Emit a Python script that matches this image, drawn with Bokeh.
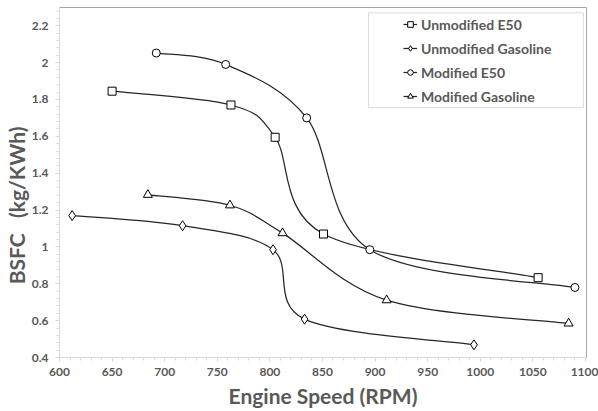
from bokeh.plotting import figure
from bokeh.models import (ColumnDataSource, Range1d, FixedTicker, CustomJSTickFormatter,
                          Legend, LegendItem, BoxAnnotation)
from bokeh.embed import file_html
from bokeh.resources import INLINE

# ---- data ----
x_ticks = [600, 650, 700, 750, 800, 850, 900, 950, 1000, 1050, 1100]
y_ticks = [0.4, 0.6, 0.8, 1.0, 1.2, 1.4, 1.6, 1.8, 2.0, 2.2]

unmod_e50_x = [650, 763, 805, 851, 1055]
unmod_e50_y = [1.845, 1.77, 1.595, 1.07, 0.833]

unmod_gas_x = [612, 717, 803, 833, 994]
unmod_gas_y = [1.17, 1.115, 0.985, 0.608, 0.469]

mod_e50_x = [692, 758, 835, 895, 1090]
mod_e50_y = [2.052, 1.99, 1.70, 0.985, 0.78]

mod_gas_x = [684, 762, 812, 911, 1084]
mod_gas_y = [1.283, 1.226, 1.075, 0.711, 0.585]

series = [
    ("Unmodified E50", unmod_e50_x, unmod_e50_y, "square", 8),
    ("Unmodified Gasoline", unmod_gas_x, unmod_gas_y, "diamond", 10),
    ("Modified E50", mod_e50_x, mod_e50_y, "circle", 8),
    ("Modified Gasoline", mod_gas_x, mod_gas_y, "triangle", 9),
]

FONT = "Lato"
GREY = "#595959"
LINE = "#262626"

p = figure(width=598, height=411, output_backend="svg", toolbar_location=None,
           x_range=Range1d(600, 1101), y_range=Range1d(0.4, 2.299),
           min_border_left=59, min_border_right=12, min_border_top=7, min_border_bottom=54)

p.background_fill_color = "white"
p.border_fill_color = "white"
p.outline_line_color = "#a6a6a6"
p.outline_line_width = 1
p.xgrid.visible = False
p.ygrid.visible = False


def smooth_segments(xs, ys):
    """Catmull-Rom style smoothing rendered with Bokeh's bezier glyph."""
    n = len(xs)
    d = dict(x0=[], y0=[], x1=[], y1=[], cx0=[], cy0=[], cx1=[], cy1=[])
    for i in range(n - 1):
        xm, ym = (xs[i - 1], ys[i - 1]) if i > 0 else (xs[i], ys[i])
        xp, yp = (xs[i + 2], ys[i + 2]) if i + 2 < n else (xs[i + 1], ys[i + 1])
        d["x0"].append(xs[i]); d["y0"].append(ys[i])
        d["x1"].append(xs[i + 1]); d["y1"].append(ys[i + 1])
        d["cx0"].append(xs[i] + (xs[i + 1] - xm) / 6.0)
        d["cy0"].append(ys[i] + (ys[i + 1] - ym) / 6.0)
        d["cx1"].append(xs[i + 1] - (xp - xs[i]) / 6.0)
        d["cy1"].append(ys[i + 1] - (yp - ys[i]) / 6.0)
    return ColumnDataSource(d)


items = []
for name, xs, ys, marker, size in series:
    src = smooth_segments(xs, ys)
    r_line = p.bezier(x0="x0", y0="y0", x1="x1", y1="y1", cx0="cx0", cy0="cy0",
                      cx1="cx1", cy1="cy1", source=src, line_color=LINE, line_width=1.25)
    r_pts = p.scatter(x=xs, y=ys, marker=marker, size=size, fill_color="white",
                      line_color="black", line_width=1)
    items.append(LegendItem(label=name, renderers=[r_line, r_pts]))

legend = Legend(items=items, location=(342, 249), padding=2, spacing=4,
                glyph_width=14, glyph_height=20, label_standoff=4,
                label_text_font=FONT, label_text_font_style="bold",
                label_text_font_size="14px", label_text_color=GREY,
                border_line_alpha=0, background_fill_alpha=0, margin=0)
p.add_layout(legend)

box = BoxAnnotation(left=893.7, right=1098.0, top=2.27, bottom=1.755,
                    fill_alpha=0, line_color="#8c8c8c", line_width=1)
p.add_layout(box)

# ---- axes ----
p.xaxis.ticker = FixedTicker(ticks=x_ticks, minor_ticks=list(range(600, 1101, 10)))
p.yaxis.ticker = FixedTicker(ticks=y_ticks, minor_ticks=[round(0.4 + 0.04 * i, 2) for i in range(48)])
p.yaxis.formatter = CustomJSTickFormatter(code="return (Math.round(tick*10)/10).toString();")

for ax in (p.xaxis[0], p.yaxis[0]):
    ax.axis_line_color = "#d9d9d9"
    ax.major_tick_line_color = "#d9d9d9"
    ax.minor_tick_line_color = "#d9d9d9"
    ax.major_tick_out = 4
    ax.major_tick_in = 0
    ax.minor_tick_out = 3
    ax.minor_tick_in = 0
    ax.major_label_text_font = FONT
    ax.major_label_text_font_style = "bold"
    ax.major_label_text_font_size = "12px"
    ax.major_label_text_color = GREY
    ax.axis_label_text_font = FONT
    ax.axis_label_text_font_style = "bold"
    ax.axis_label_text_font_size = "21px"
    ax.axis_label_text_color = GREY

p.xaxis.major_label_standoff = 6
p.xaxis.axis_label_standoff = 4
p.xaxis.axis_label = "Engine Speed (RPM)"

p.yaxis.major_label_standoff = 7
p.yaxis.axis_label_standoff = 0
p.yaxis.axis_label = "BSFC\u00a0\u00a0\u00a0(kg/KWh)" + "\u00a0" * 9

open("out.html", "w").write(file_html(p, INLINE))
